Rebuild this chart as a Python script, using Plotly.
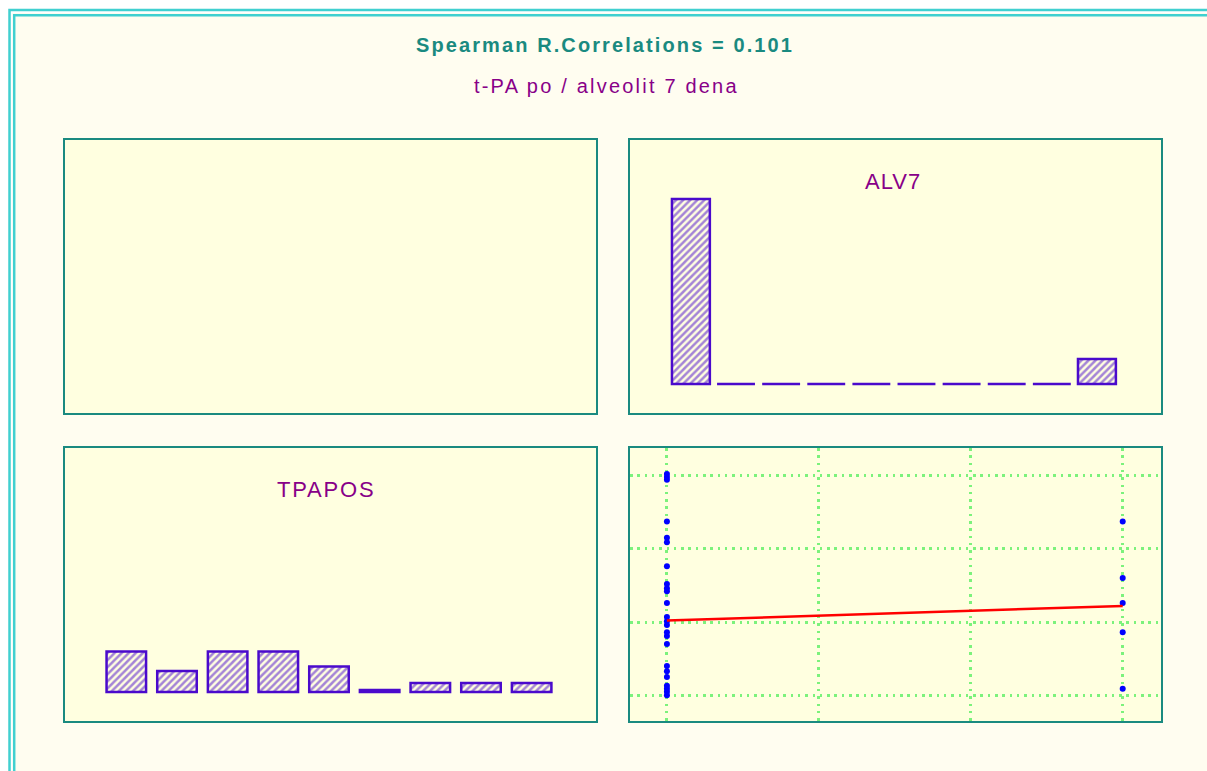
import plotly.graph_objects as go

W, H = 1207, 771

# histogram of ALV7 (10 bins)
alv7_bins = list(range(10))
alv7_counts = [37, 0, 0, 0, 0, 0, 0, 0, 0, 5]

# histogram of TPAPOS (9 bins)
tpapos_bins = list(range(9))
tpapos_counts = [8.1, 4.2, 8.1, 8.1, 5.1, 0.4, 1.8, 1.8, 1.8]

# scatter ALV7 (x) vs TPAPOS (y)
scatter_x = [0] * 24 + [1] * 5
scatter_y = [3.02, 2.98, 2.94, 2.37, 2.15, 2.09, 1.76, 1.52, 1.46, 1.42,
             1.26, 1.07, 1.01, 0.96, 0.86, 0.81, 0.70, 0.40, 0.33, 0.25,
             0.13, 0.09, 0.05, 0.00,
             2.37, 1.60, 1.26, 0.86, 0.09]

# fitted line
fit_x = [0, 1]
fit_y = [1.02, 1.22]

title_text = "Spearman R.Correlations = 0.101"
subtitle_text = "t-PA po / alveolit 7 dena"

TEAL = "#1A8A80"
PURPLE = "#880088"
BAR = "#4A0ACC"
PANEL = "#FFFFE0"
CREAM = "#FFFDF0"
CYAN = "#40D0D0"
FONT = "Liberation Sans, Arial, sans-serif"


def px_x(p):
    return p / W


def px_y(p):
    return 1 - p / H


def spaced(text, s):
    return f'<span style="letter-spacing:{s}px">{text}</span>'


col_left = [px_x(65), px_x(596)]
col_right = [px_x(630), px_x(1161)]
row_top = [px_y(413), px_y(140)]
row_bottom = [px_y(721), px_y(448)]

hatch = dict(shape="/", fgcolor=BAR, bgcolor=PANEL, size=5, solidity=0.5)

fig = go.Figure()

# top-left panel is empty
fig.add_trace(go.Scatter(x=[], y=[], xaxis="x", yaxis="y", showlegend=False))

fig.add_trace(go.Bar(
    x=alv7_bins, y=alv7_counts, width=0.84, xaxis="x2", yaxis="y2",
    marker=dict(color=PANEL, pattern=hatch, line=dict(color=BAR, width=2.5)),
    showlegend=False,
))

fig.add_trace(go.Bar(
    x=tpapos_bins, y=tpapos_counts, width=0.78, xaxis="x3", yaxis="y3",
    marker=dict(color=PANEL, pattern=hatch, line=dict(color=BAR, width=2.5)),
    showlegend=False,
))

fig.add_trace(go.Scatter(
    x=scatter_x, y=scatter_y, mode="markers", xaxis="x4", yaxis="y4",
    marker=dict(color="#0000FF", size=6), showlegend=False,
))
fig.add_trace(go.Scatter(
    x=fit_x, y=fit_y, mode="lines", xaxis="x4", yaxis="y4",
    line=dict(color="#FF0000", width=2.5), showlegend=False,
))

axis_style = dict(
    showline=True, mirror=True, linecolor=TEAL, linewidth=2,
    showticklabels=False, ticks="", showgrid=False, zeroline=False,
    fixedrange=True,
)

grid_style = dict(showgrid=True, gridcolor="#7CF27C", gridwidth=2.5,
                  griddash="2.5px,4.8px")

fig.update_layout(
    width=W, height=H,
    margin=dict(l=0, r=0, t=0, b=0),
    paper_bgcolor=CREAM,
    plot_bgcolor=PANEL,
    font=dict(family=FONT),
    barmode="overlay",
    xaxis=dict(domain=col_left, anchor="y", range=[0, 1], **axis_style),
    yaxis=dict(domain=row_top, anchor="x", range=[0, 1], **axis_style),
    xaxis2=dict(domain=col_right, anchor="y2", range=[-1.35, 10.42], **axis_style),
    yaxis2=dict(domain=row_top, anchor="x2", range=[-5.8, 48.8], **axis_style),
    xaxis3=dict(domain=col_left, anchor="y3", range=[-1.21, 9.27], **axis_style),
    yaxis3=dict(domain=row_bottom, anchor="x3", range=[-5.8, 48.8], **axis_style),
    xaxis4=dict(domain=col_right, anchor="y4", range=[-0.081, 1.084],
                tickvals=[0, 1 / 3, 2 / 3, 1], **{**axis_style, **grid_style}),
    yaxis4=dict(domain=row_bottom, anchor="x4", range=[-0.35, 3.374],
                tickvals=[0, 1, 2, 3], **{**axis_style, **grid_style}),
)

# outer double frame (continues past the right and bottom edges)
shapes = [
    dict(type="rect", xref="paper", yref="paper", x0=-0.01, x1=px_x(12.5),
         y0=-0.05, y1=1.01, fillcolor="white", line_width=0, layer="below"),
    dict(type="rect", xref="paper", yref="paper", x0=-0.01, x1=1.05,
         y0=px_y(13), y1=1.01, fillcolor="white", line_width=0, layer="below"),
    dict(type="rect", xref="paper", yref="paper", x0=px_x(9.5), x1=1.05,
         y0=-0.05, y1=px_y(10), line=dict(color=CYAN, width=2.5)),
    dict(type="rect", xref="paper", yref="paper", x0=px_x(14.2), x1=1.05,
         y0=-0.05, y1=px_y(15.2), line=dict(color=CYAN, width=2.5)),
]
fig.update_layout(shapes=shapes)

annotations = [
    dict(text="<b>" + spaced(title_text, 2.1) + "</b>", x=px_x(605), y=px_y(45),
         font=dict(size=20, color=TEAL)),
    dict(text=spaced(subtitle_text, 2.2), x=px_x(606), y=px_y(86),
         font=dict(size=20, color=PURPLE)),
    dict(text=spaced("ALV7", 1), x=px_x(893), y=px_y(181),
         font=dict(size=22, color=PURPLE)),
    dict(text=spaced("TPAPOS", 1.8), x=px_x(326), y=px_y(489),
         font=dict(size=22, color=PURPLE)),
]
for a in annotations:
    a.update(xref="paper", yref="paper", showarrow=False,
             xanchor="center", yanchor="middle")
fig.update_layout(annotations=annotations)

# drop the default page margin so the figure fills the window exactly
fig.write_html(
    "out.html",
    config={"displayModeBar": False},
    post_script="document.body.style.margin='0';document.body.style.overflow='hidden';",
)
